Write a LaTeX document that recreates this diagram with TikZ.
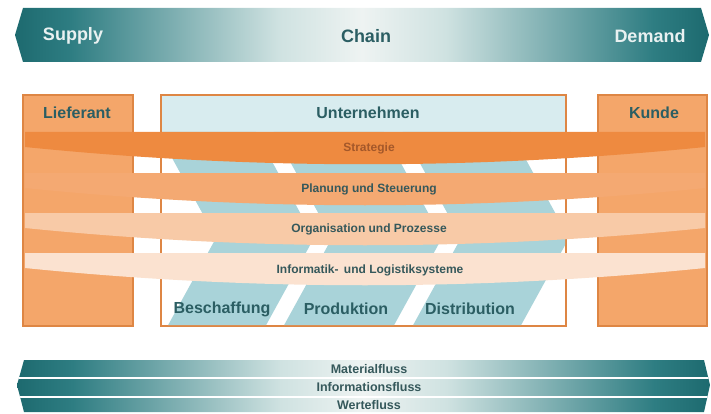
\documentclass[tikz,border=0pt]{standalone}
\usepackage{fontspec}
\setmainfont{Liberation Sans}
\definecolor{bdark}{HTML}{1D6A6F}
\definecolor{bdk2}{HTML}{2E7D82}
\definecolor{bmid}{HTML}{6EA5A8}
\definecolor{blight}{HTML}{CFE2E1}
\definecolor{bwhite}{HTML}{EEF3F2}
\definecolor{tealtext}{HTML}{2B5E63}
\definecolor{bandtext}{HTML}{35585B}
\definecolor{stratext}{HTML}{A4582A}
\definecolor{boxfill}{HTML}{F4A66A}
\definecolor{boxline}{HTML}{DE8644}
\definecolor{colblue}{HTML}{A9D3D9}
\definecolor{headblue}{HTML}{D8ECEF}
\definecolor{bandA}{HTML}{EE8A40}
\definecolor{bandB}{HTML}{F4A972}
\definecolor{bandC}{HTML}{F8CAA7}
\definecolor{bandD}{HTML}{FBE2D0}
\definecolor{bannerwhite}{HTML}{E9F1F1}
\pgfdeclarehorizontalshading{bannershade}{100bp}{color(0bp)=(bdark); color(25bp)=(bdark); color(29bp)=(bdk2); color(35bp)=(bmid); color(44bp)=(blight); color(50bp)=(bwhite); color(56bp)=(blight); color(65bp)=(bmid); color(71bp)=(bdk2); color(75bp)=(bdark); color(100bp)=(bdark)}
\tikzset{
  banner/.style={shading=bannershade},
  outerbox/.style={fill=boxfill, draw=boxline, line width=1.2pt},
  midbox/.style={fill=white, draw=boxline, line width=1.2pt},
  boxtitle/.style={font=\fontsize{16}{18}\selectfont\bfseries, text=tealtext, inner sep=0pt},
  bantitle/.style={font=\fontsize{18}{20}\selectfont\bfseries, inner sep=0pt},
  bandlabel/.style={font=\fontsize{12}{14}\selectfont\bfseries, text=bandtext, inner sep=0pt},
  flowlabel/.style={font=\fontsize{12.5}{14}\selectfont\bfseries, text=bandtext, inner sep=0pt},
  colshape/.style={fill=colblue, draw=none},
}
% band: #1 top y, #2 colour
\newcommand{\myband}[2]{%
  \fill[#2] (25,#1) -- (705,#1) -- (705,#1+15) .. controls (478,#1+38) and (252,#1+38) .. (25,#1+15) -- cycle;}
% chevron column: #1 left x, #2 right x (at y=167)
\newcommand{\mycol}[2]{%
  \fill[colshape] (#1-19.25,132) -- (#2-19.25,132) -- (#2+39,238) -- (#2-8.85,325) -- (#1-8.85,325) -- (#1+39,238) -- cycle;}
\begin{document}
\begin{tikzpicture}[x=1pt,y=-1pt]
\useasboundingbox (0,0) rectangle (711,414);
% top banner
\path[banner] (23,8) -- (701,8) -- (709,35) -- (701,62) -- (23,62) -- (15,35) -- cycle;
\node[bantitle, text=bannerwhite] (supply) at (73,36) {Supply};
\node[bantitle, text=tealtext] (chain) at (366,36) {Chain};
\node[bantitle, text=bannerwhite] (demand) at (650,36) {Demand};
% boxes
\path[outerbox] (23,95) rectangle (133,326);
\path[outerbox] (598,95) rectangle (707,326);
\path[midbox] (161,95) rectangle (566,326);
\fill[headblue] (162,96) rectangle (565,132);
% columns
\begin{scope}
\clip (162,132) rectangle (565,325);
\mycol{177}{275}
\mycol{293}{403}
\mycol{422}{530}
\end{scope}
% bands
\myband{132}{bandA}
\myband{173}{bandB}
\myband{213}{bandC}
\myband{253}{bandD}
% titles
\node[boxtitle] (lieferant) at (77,113) {Lieferant};
\node[boxtitle] (unternehmen) at (368,113) {Unternehmen};
\node[boxtitle] (kunde) at (654,113) {Kunde};
\node[bandlabel, text=stratext] (strategie) at (369,148) {Strategie};
\node[bandlabel] (planung) at (369,189) {Planung und Steuerung};
\node[bandlabel] (organisation) at (369,229) {Organisation und Prozesse};
\node[bandlabel] (informatik) at (370,270) {Informatik-\, und Logistiksysteme};
\node[boxtitle] (beschaffung) at (222,309) {Beschaffung};
\node[boxtitle] (produktion) at (346,309) {Produktion};
\node[boxtitle] (distribution) at (470,309) {Distribution};
% bottom banner
\path[banner] (24,360) -- (704,360) -- (710,385) -- (704,412) -- (24,412) -- (17,385) -- cycle;
\begin{scope}
\clip (24,360) -- (704,360) -- (710,385) -- (704,412) -- (24,412) -- (17,385) -- cycle;
\draw[white, line width=2pt] (0,378) -- (711,378);
\draw[white, line width=2pt] (0,397) -- (711,397);
\end{scope}
\node[flowlabel] (material) at (369,369.5) {Materialfluss};
\node[flowlabel] (information) at (369,387.5) {Informationsfluss};
\node[flowlabel] (werte) at (369,405) {Wertefluss};
\end{tikzpicture}
\end{document}
